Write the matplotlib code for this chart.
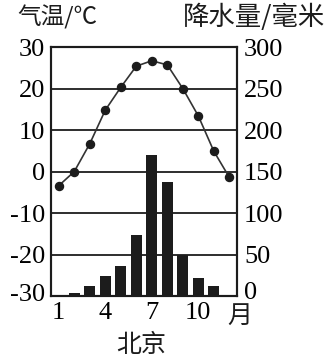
import numpy as np
import matplotlib
matplotlib.use('Agg')
import matplotlib.pyplot as plt
from matplotlib.transforms import ScaledTranslation

# dati (Pechino)
mesi = np.arange(1, 13)
temperatura = [-3.4, 0.0, 6.7, 14.8, 20.3, 25.4, 26.7, 25.7, 20.0, 13.4, 4.9, -1.4]
precipitazioni = [0, 3.5, 11.7, 24, 36, 74, 170, 137, 50, 22, 12, 0]

tick_mesi = [1, 4, 7, 10]
tick_temp = [-30, -20, -10, 0, 10, 20, 30]
tick_temp_lab = ['-30', '-20', '-10', '0', '10', '20', '30']
tick_prec = [0, 50, 100, 150, 200, 250, 300]

plt.rcParams['axes.unicode_minus'] = False
plt.rcParams['font.family'] = ['Liberation Serif', 'Noto Sans CJK SC', 'DejaVu Sans']
cjk_font = ['Noto Sans CJK SC', 'DejaVu Sans']
ink = '#1c1c1c'

fig = plt.figure(figsize=(3.30, 3.62), dpi=100)
ax = fig.add_axes([0.1545, 0.182, 0.564, 0.688])
ax2 = ax.twinx()

# barre delle precipitazioni sull'asse destro
ax2.bar(mesi, precipitazioni, width=0.72, color=ink, zorder=2)
ax2.set_ylim(0, 300)
ax2.set_yticks(tick_prec)
ax2.set_yticklabels([str(v) for v in tick_prec], fontsize=19)
ax2.tick_params(axis='y', length=0, pad=5)

# curva della temperatura sull'asse sinistro, sopra le barre
ax.set_zorder(ax2.get_zorder() + 1)
ax.patch.set_visible(False)
ax.plot(mesi, temperatura, '-', color='#333333', linewidth=1.2, zorder=3)
ax.plot(mesi, temperatura, 'o', color=ink, markersize=5.8, zorder=4)
ax.set_ylim(-30, 30)
ax.set_xlim(0.5, 12.5)
ax.set_yticks(tick_temp)
ax.set_yticklabels(tick_temp_lab, fontsize=19)
ax.set_xticks(tick_mesi)
ax.set_xticklabels([str(m) for m in tick_mesi], fontsize=19)
ax.tick_params(axis='both', length=0)
ax.tick_params(axis='y', pad=4)
ax.tick_params(axis='x', pad=4)

# le etichette in basso nel riferimento stanno un po' piu' in alto
su = lambda px: ScaledTranslation(0, px / 100, fig.dpi_scale_trans)
lab = ax2.get_yticklabels()[0]
lab.set_transform(lab.get_transform() + su(6))
lab = ax.get_yticklabels()[0]
lab.set_transform(lab.get_transform() + su(4))

for v in tick_temp[1:-1]:
    ax.axhline(v, color=ink, linewidth=1.3, zorder=1)

for a in (ax, ax2):
    for s in a.spines.values():
        s.set_linewidth(1.5)
        s.set_color(ink)

ax.annotate('月', xy=(12.7, -30), xycoords='data', xytext=(0, -5),
            textcoords='offset points', ha='center', va='top',
            fontfamily=cjk_font, fontsize=18, color=ink, annotation_clip=False)

fig.text(0.052, 0.953, '气温/℃', ha='left', va='center', fontfamily=cjk_font,
         fontsize=17, color=ink)
fig.text(0.985, 0.953, '降水量/毫米', ha='right', va='center', fontfamily=cjk_font,
         fontsize=19, color=ink)
fig.text(0.427, 0.047, '北京', ha='center', va='center', fontfamily=cjk_font,
         fontsize=18, color=ink)

fig.savefig('out.png', dpi=100, facecolor='white')
